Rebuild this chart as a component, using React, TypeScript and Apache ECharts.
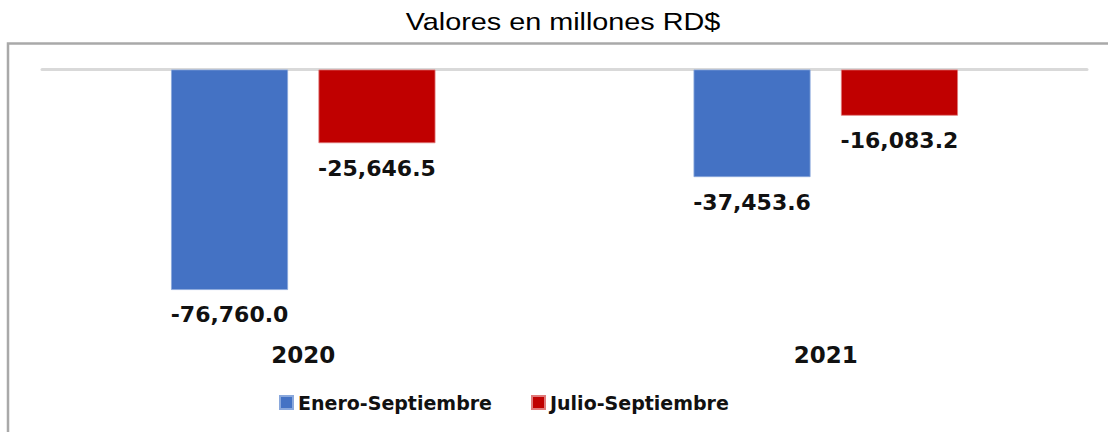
import React, { useEffect, useRef } from "react";
import * as echarts from "echarts";

const categories = ["2020", "2021"];
const seriesNames = ["Enero-Septiembre", "Julio-Septiembre"];
const eneroSep = [-76760.0, -37453.6];
const julioSep = [-25646.5, -16083.2];
const titleText = "Valores en millones RD$";

const fmt = (v: number) =>
  v.toLocaleString("en-US", { minimumFractionDigits: 1, maximumFractionDigits: 1 });

export default function App() {
  const ref = useRef<HTMLDivElement>(null);
  useEffect(() => {
    if (!ref.current) return;
    const chart = echarts.init(ref.current, null, { renderer: "svg" });
    const labelStyle = {
      show: true,
      position: "bottom" as const,
      distance: 14,
      fontFamily: "DejaVu Sans",
      fontWeight: "bold" as const,
      fontSize: 22,
      color: "#111",
      formatter: (p: any) => fmt(p.value),
    };
    chart.setOption({
      animation: false,
      backgroundColor: "#fff",
      graphic: [
        {
          type: "polyline",
          shape: { points: [[8, 600], [8, 43.5], [1300, 43.5]] },
          style: { fill: "none", stroke: "#a9a9a9", lineWidth: 2.5 },
          silent: true,
        },
        {
          type: "text",
          x: 563,
          y: 22,
          scaleX: 1.2,
          style: {
            text: titleText,
            font: "24px 'Liberation Sans', Arial, sans-serif",
            fill: "#000",
            textAlign: "center",
            textVerticalAlign: "middle",
          },
        },
      ],
      legend: {
        data: seriesNames,
        left: 279,
        top: 393,
        padding: 0,
        itemWidth: 13,
        itemHeight: 13,
        itemGap: 39,
        icon: "rect",
        textStyle: {
          fontFamily: "DejaVu Sans",
          fontWeight: "bold",
          fontSize: 19,
          color: "#111",
        },
      },
      grid: { left: 42, right: 21, top: 69.5, bottom: 132.7 },
      xAxis: [
        {
          type: "category",
          data: categories,
          axisLine: { show: false, onZero: false },
          axisTick: { show: false },
          axisLabel: {
            margin: 44,
            fontFamily: "DejaVu Sans",
            fontWeight: "bold",
            fontSize: 23,
            color: "#111",
          },
        },
        {
          type: "category",
          data: categories,
          position: "top",
          axisLine: { show: true, lineStyle: { color: "#d9d9d9", width: 3 } },
          axisTick: { show: false },
          axisLabel: { show: false },
        },
      ],
      yAxis: {
        type: "value",
        min: -80000,
        max: 0,
        interval: 80000,
        show: false,
        splitLine: { show: false },
      },
      series: [
        {
          name: seriesNames[0],
          type: "bar",
          data: eneroSep,
          barWidth: 117,
          barGap: "26%",
          itemStyle: { color: "#4472C4", borderColor: "#8aa8dc", borderWidth: 0.8 },
          label: labelStyle,
        },
        {
          name: seriesNames[1],
          type: "bar",
          data: julioSep,
          barWidth: 117,
          barGap: "26%",
          itemStyle: { color: "#C00000", borderColor: "#e07a7a", borderWidth: 0.8 },
          label: labelStyle,
        },
      ],
    });
    return () => chart.dispose();
  }, []);
  return (
    <div
      ref={ref}
      style={{ position: "fixed", left: 0, top: 0, width: 1108, height: 432 }}
    />
  );
}
